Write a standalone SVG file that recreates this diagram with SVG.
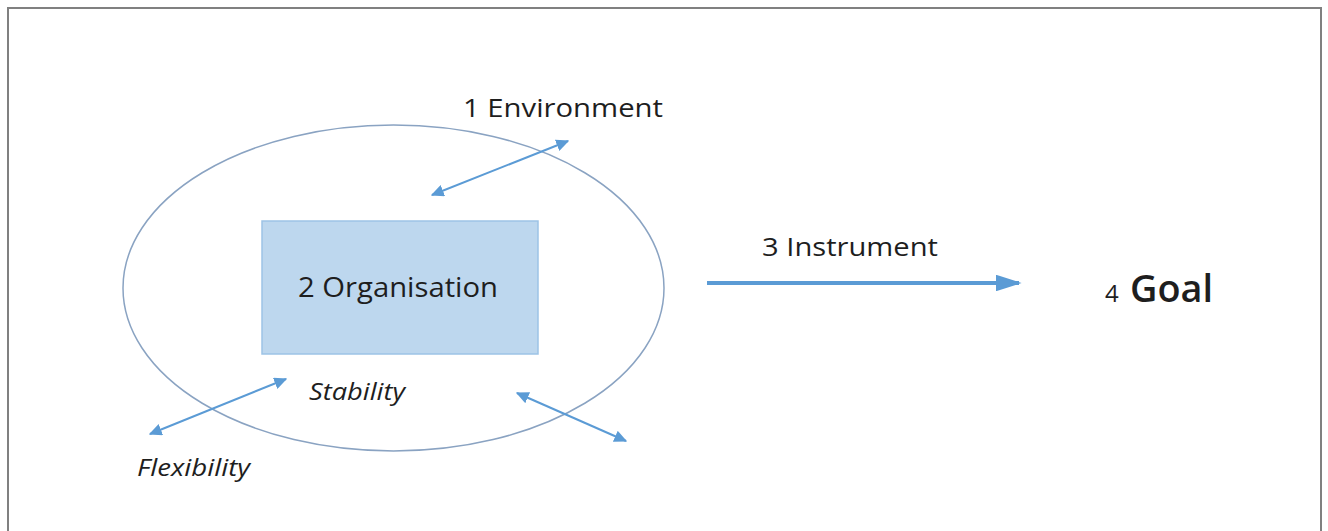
<svg xmlns="http://www.w3.org/2000/svg" width="1328" height="531" viewBox="0 0 1328 531">
<style>
.t{font-family:"Open Sans","Liberation Sans",sans-serif;fill:#1e1e1e}
.i{font-style:italic;font-size:23px}
.c{stroke:#5b9bd5;stroke-width:2;fill:none}
</style>
<defs>
<marker id="h" viewBox="0 0 10 10" refX="9" refY="5" markerWidth="6.5" markerHeight="6" orient="auto-start-reverse" markerUnits="strokeWidth" preserveAspectRatio="none">
<path d="M0,0 L10,5 L0,10 z" fill="#5b9bd5"/>
</marker>
<marker id="hb" viewBox="0 0 10 10" refX="9" refY="5" markerWidth="6.5" markerHeight="4.2" orient="auto" markerUnits="strokeWidth" preserveAspectRatio="none">
<path d="M0,0 L10,5 L0,10 z" fill="#5b9bd5"/>
</marker>
</defs>
<rect width="1328" height="531" fill="#fff"/>
<rect x="8" y="8" width="1313" height="540" fill="none" stroke="#808080" stroke-width="2"/>
<g id="environment">
<ellipse cx="393.5" cy="288" rx="270.5" ry="163" fill="none" stroke="#8aa3c2" stroke-width="1.5"/>
<text class="t" x="463" y="117" font-size="26" textLength="200" lengthAdjust="spacingAndGlyphs">1 Environment</text>
</g>
<g id="organisation">
<rect x="262" y="221" width="276" height="133" fill="#bdd7ee" stroke="#9dc3e6" stroke-width="1.5"/>
<text class="t" x="298" y="297" font-size="27" textLength="200" lengthAdjust="spacingAndGlyphs">2 Organisation</text>
</g>
<g id="stability"><text class="t i" x="309" y="400" textLength="96" lengthAdjust="spacingAndGlyphs">Stability</text></g>
<g id="flexibility"><text class="t i" x="137" y="476" textLength="113" lengthAdjust="spacingAndGlyphs">Flexibility</text></g>
<g id="instrument"><text class="t" x="762" y="256" font-size="26" textLength="176" lengthAdjust="spacingAndGlyphs">3 Instrument</text></g>
<g id="goal">
<text class="t" x="1105" y="302" font-size="24">4</text>
<text class="t" x="1130" y="302" font-size="38" font-weight="600" textLength="83" lengthAdjust="spacingAndGlyphs">Goal</text>
</g>
<g id="connectors">
<line class="c" x1="432" y1="195" x2="568" y2="141" marker-start="url(#h)" marker-end="url(#h)"/>
<line class="c" x1="150" y1="434" x2="286" y2="379" marker-start="url(#h)" marker-end="url(#h)"/>
<line class="c" x1="517" y1="393" x2="626" y2="441" marker-start="url(#h)" marker-end="url(#h)"/>
<line x1="707" y1="283" x2="1019" y2="283" stroke="#5b9bd5" stroke-width="4" marker-end="url(#hb)"/>
</g>
</svg>
